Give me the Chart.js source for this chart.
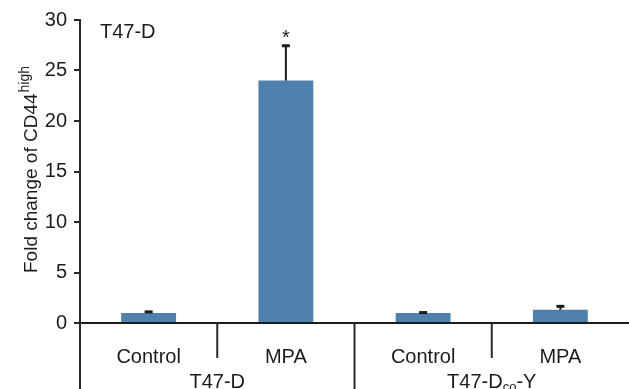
<!DOCTYPE html>
<html lang="en">
<head>
  <meta charset="UTF-8">
  <title>Fold change of CD44 high</title>
  <script src="https://cdn.jsdelivr.net/npm/chart.js"></script>
  <style>
    body { margin: 0; background: #fff; }
    #chart { display: block; }
  </style>
</head>
<body>
<canvas id="chart" width="629" height="389"></canvas>

<script>
// data
const categories = ["Control", "MPA", "Control", "MPA"];
const foldChange = [1.0, 24.0, 1.0, 1.3];
const errorUp = [0.15, 3.5, 0.08, 0.4];
const significance = ["", "*", "", ""];
// group label: main text, subscript, tail
const groupMain = ["T47-D", "T47-D"];
const groupSub = ["", "co"];
const groupTail = ["", "-Y"];
const panelLabel = "T47-D";
const yTitle = "Fold change of CD44";
const yTitleSup = "high";

const FONT = "'Liberation Sans', Arial, sans-serif";
const INK = "#1c1c1c";

// error bars, asterisks, dividers, group labels, axis title
const extras = {
  id: "extras",
  afterDraw(chart) {
    const ctx = chart.ctx;
    const x = chart.scales.x;
    const y = chart.scales.y;
    const area = chart.chartArea;
    const H = chart.height;
    ctx.save();

    // error bars (upper only)
    ctx.strokeStyle = INK;
    ctx.fillStyle = INK;
    foldChange.forEach((v, i) => {
      const px = x.getPixelForValue(i);
      const top = y.getPixelForValue(v);
      const end = y.getPixelForValue(v + errorUp[i]);
      ctx.lineWidth = 2;
      ctx.beginPath();
      ctx.moveTo(px, top);
      ctx.lineTo(px, end);
      ctx.stroke();
      ctx.fillRect(px - 4, end - 1, 8, 3);
      if (significance[i]) {
        ctx.font = "20px " + FONT;
        ctx.textAlign = "center";
        ctx.textBaseline = "alphabetic";
        ctx.fillText(significance[i], px, end - 1);
      }
    });

    // axis extension and dividers below the x axis
    ctx.strokeStyle = "#2a2a2a";
    ctx.lineWidth = 2;
    ctx.beginPath();
    ctx.moveTo(area.left, area.bottom);
    ctx.lineTo(area.left, H);
    for (let i = 0; i < categories.length - 1; i++) {
      const mid = (x.getPixelForValue(i) + x.getPixelForValue(i + 1)) / 2;
      ctx.moveTo(mid, area.bottom);
      ctx.lineTo(mid, i % 2 === 1 ? H : area.bottom + 35);
    }
    ctx.stroke();

    // group labels
    ctx.fillStyle = INK;
    ctx.textBaseline = "alphabetic";
    ctx.textAlign = "left";
    groupMain.forEach((g, k) => {
      const cx = (x.getPixelForValue(2 * k) + x.getPixelForValue(2 * k + 1)) / 2;
      ctx.font = "20px " + FONT;
      const w1 = ctx.measureText(g).width;
      const w3 = ctx.measureText(groupTail[k]).width;
      ctx.font = "13px " + FONT;
      const w2 = ctx.measureText(groupSub[k]).width;
      let sx = cx - (w1 + w2 + w3) / 2;
      const base = 388;
      ctx.font = "20px " + FONT;
      ctx.fillText(g, sx, base);
      ctx.font = "13px " + FONT;
      ctx.fillText(groupSub[k], sx + w1, base + 3);
      ctx.font = "20px " + FONT;
      ctx.fillText(groupTail[k], sx + w1 + w2, base);
    });

    // panel label
    ctx.font = "20px " + FONT;
    ctx.fillText(panelLabel, 100, 38);

    // rotated y title with superscript
    ctx.translate(37, 273);
    ctx.rotate(-Math.PI / 2);
    ctx.font = "19px " + FONT;
    ctx.fillText(yTitle, 0, 0);
    const tw = ctx.measureText(yTitle).width;
    ctx.font = "14px " + FONT;
    ctx.fillText(yTitleSup, tw + 1, -8);

    ctx.restore();
  }
};

new Chart(document.getElementById("chart"), {
  type: "bar",
  data: {
    labels: categories,
    datasets: [{
      data: foldChange,
      backgroundColor: "#4e81ab",
      barPercentage: 0.4,
      categoryPercentage: 1.0
    }]
  },
  options: {
    responsive: false,
    devicePixelRatio: 1,
    animation: false,
    layout: { padding: { top: 20, right: 0, left: 0, bottom: 0 } },
    plugins: {
      legend: { display: false },
      tooltip: { enabled: false }
    },
    scales: {
      x: {
        grid: { display: false },
        border: { display: true, color: "#1c1c1c", width: 2 },
        ticks: { color: INK, font: { family: FONT, size: 20 }, padding: 14, maxRotation: 0 },
        afterFit: s => { s.height = 66; }
      },
      y: {
        min: 0,
        max: 30,
        ticks: { stepSize: 5, color: INK, font: { family: FONT, size: 20 }, padding: 7 },
        grid: { drawOnChartArea: false, drawTicks: true, tickLength: 6, color: "#2a2a2a", lineWidth: 2 },
        border: { display: true, color: "#2a2a2a", width: 2 },
        afterFit: s => { s.width = 80; }
      }
    }
  },
  plugins: [extras]
});
</script>
</body>
</html>
